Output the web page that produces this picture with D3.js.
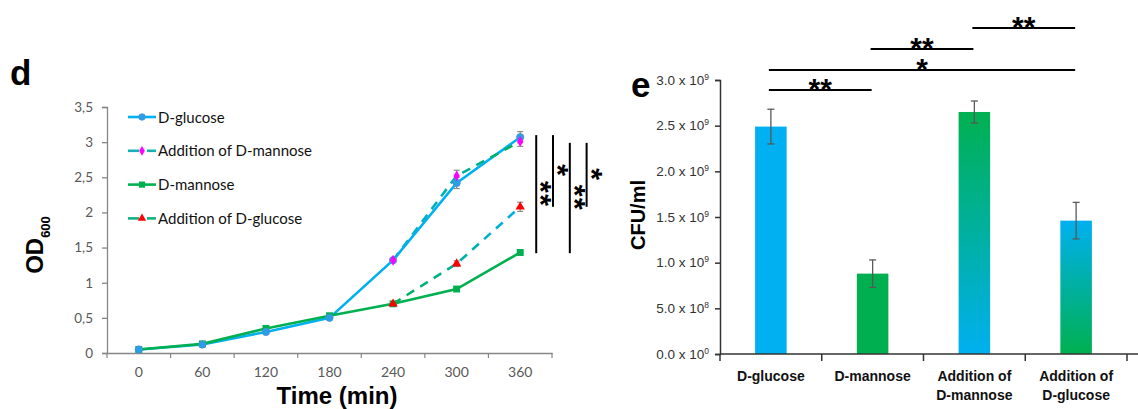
<!DOCTYPE html>
<html lang="en">
<head>
  <meta charset="UTF-8">
  <title>Growth curves and CFU counts</title>
  <script src="https://d3js.org/d3.v7.min.js"></script>
  <style>
    body {
      margin: 0;
      background: #fff;
    }
    svg {
      display: block;
    }
    .panel-letter {
      font-family: 'Liberation Sans', Arial, sans-serif;
      font-weight: bold;
      font-size: 35px;
      fill: #000;
    }
    .lt text {
      font-family: Lato, 'Open Sans', sans-serif;
      fill: #595959;
    }
    .rt text {
      font-family: 'Liberation Sans', Arial, sans-serif;
      fill: #333;
    }
    .star {
      font-family: 'Liberation Sans', Arial, sans-serif;
      font-weight: bold;
      fill: #000;
    }
  </style>
</head>
<body>
  <svg width="1138" height="409"></svg>

  <script>
    // ---- panel d data: OD600 over time ----
    const timeCats = ["0", "60", "120", "180", "240", "300", "360"];
    const odTicks = [0, 0.5, 1, 1.5, 2, 2.5, 3, 3.5];

    const glucose       = [0.05, 0.12, 0.30, 0.50, 1.32, 2.42, 3.07];
    const glucoseErr    = [0, 0, 0, 0, 0.02, 0.08, 0.08];
    const addMannose    = [null, null, null, null, 1.32, 2.52, 3.01];
    const addMannoseErr = [0, 0, 0, 0, 0.02, 0.08, 0.07];
    const mannose       = [0.05, 0.13, 0.35, 0.53, 0.70, 0.91, 1.43];
    const mannoseErr    = [0, 0, 0, 0, 0.01, 0.02, 0.02];
    const addGlucose    = [null, null, null, null, 0.70, 1.27, 2.08];
    const addGlucoseErr = [0, 0, 0, 0, 0.01, 0.04, 0.065];

    // significance brackets to the right of the 360 min points
    const odSig = [
      {top: 3.10, bottom: 1.42, label: "**"},
      {top: 3.10, bottom: 2.08, label: "*"},
      {top: 2.99, bottom: 1.42, label: "**"},
      {top: 2.99, bottom: 2.08, label: "*"}
    ];

    // ---- panel e data: CFU/ml ----
    const cfuCats   = [["D-glucose"], ["D-mannose"], ["Addition of", "D-mannose"], ["Addition of", "D-glucose"]];
    const cfuValues = [2.49e9, 0.88e9, 2.65e9, 1.46e9];
    const cfuErr    = [0.19e9, 0.15e9, 0.12e9, 0.20e9];
    const cfuTicks  = [0, 0.5e9, 1.0e9, 1.5e9, 2.0e9, 2.5e9, 3.0e9];
    const cfuSig = [
      {a: 0, b: 1, y: 2.89e9, label: "**"},
      {a: 0, b: 3, y: 3.11e9, label: "*"},
      {a: 1, b: 2, y: 3.34e9, label: "**"},
      {a: 2, b: 3, y: 3.57e9, label: "**"}
    ];

    const BLUE = "#00b0f0", GREEN = "#00b050";

    const svg = d3.select("svg");
    const defs = svg.append("defs");

    function gradient(id, attrs, c1, c2) {
      const g = defs.append("linearGradient").attr("id", id);
      Object.entries(attrs).forEach(([k, v]) => g.attr(k, v));
      g.append("stop").attr("offset", "0%").attr("stop-color", c1);
      g.append("stop").attr("offset", "100%").attr("stop-color", c2);
    }
    // vertical gradients for the bars (top -> bottom)
    gradient("gMannoseAdd", {x1: 0, y1: 0, x2: 0, y2: 1}, GREEN, BLUE);
    gradient("gGlucoseAdd", {x1: 0, y1: 0, x2: 0, y2: 1}, BLUE, GREEN);

    // =================== panel d ===================
    const x = d3.scaleBand().domain(timeCats).range([107, 552]);
    const y = d3.scaleLinear().domain([0, 3.5]).range([353, 107]);
    const cx = d => x(d) + x.bandwidth() / 2;

    // horizontal gradients for the dashed lines
    gradient("gLineM", {gradientUnits: "userSpaceOnUse", x1: cx("240"), y1: 0, x2: cx("360"), y2: 0}, BLUE, GREEN);
    gradient("gLineG", {gradientUnits: "userSpaceOnUse", x1: cx("240"), y1: 0, x2: cx("360"), y2: 0}, GREEN, BLUE);

    const left = svg.append("g").attr("class", "lt");

    svg.append("text").attr("class", "panel-letter").attr("x", 10).attr("y", 85).text("d");

    // axes
    left.append("g")
      .attr("transform", "translate(0,353)")
      .call(d3.axisBottom(x).tickSize(0).tickPadding(14))
      .call(g => g.select(".domain").attr("stroke", "#868686").attr("stroke-width", 1.3))
      .call(g => g.selectAll("text").attr("font-size", 14));

    // tick marks at band boundaries
    left.append("g").selectAll("line")
      .data(timeCats.concat(["end"]))
      .join("line")
      .attr("x1", (d, i) => x.range()[0] + i * x.step())
      .attr("x2", (d, i) => x.range()[0] + i * x.step())
      .attr("y1", 353).attr("y2", 358)
      .attr("stroke", "#868686").attr("stroke-width", 1.2);

    left.append("g")
      .attr("transform", "translate(107,0)")
      .call(d3.axisLeft(y).tickValues(odTicks).tickSize(5).tickPadding(9)
        .tickFormat(d => String(d).replace(".", ",")))
      .call(g => g.selectAll(".domain, line").attr("stroke", "#868686").attr("stroke-width", 1.3))
      .call(g => g.selectAll("text").attr("font-size", 13.5));

    // axis titles
    svg.append("text")
      .attr("x", 337).attr("y", 404)
      .attr("text-anchor", "middle")
      .style("font-family", "'Liberation Sans', Arial, sans-serif")
      .style("font-weight", "bold")
      .style("font-size", "24px")
      .text("Time (min)");

    const odTitle = svg.append("text")
      .attr("transform", "translate(43,245) rotate(-90)")
      .attr("text-anchor", "middle")
      .style("font-family", "'Liberation Sans', Arial, sans-serif")
      .style("font-weight", "bold")
      .style("font-size", "24px");
    odTitle.append("tspan").text("OD");
    odTitle.append("tspan").attr("font-size", 13).attr("dy", 7).text("600");

    // lines
    const line = d3.line()
      .defined(d => d != null)
      .x((d, i) => cx(timeCats[i]))
      .y(d => y(d));

    const series = [
      {name: "D-glucose", values: glucose, err: glucoseErr, stroke: BLUE, dash: null, marker: "circle", mfill: "#2a9ee6"},
      {name: "D-mannose", values: mannose, err: mannoseErr, stroke: GREEN, dash: null, marker: "square", mfill: GREEN},
      {name: "Addition of D-mannose", values: addMannose, err: addMannoseErr, stroke: "url(#gLineM)", dash: "9,7", marker: "diamond", mfill: "#ff00ff", legendStroke: "#16b0b0"},
      {name: "Addition of D-glucose", values: addGlucose, err: addGlucoseErr, stroke: "url(#gLineG)", dash: "9,7", marker: "triangle", mfill: "#ff0000", legendStroke: "#10b080"}
    ];

    const symbolType = {
      circle: d3.symbolCircle, square: d3.symbolSquare,
      diamond: d3.symbolDiamond, triangle: d3.symbolTriangle
    };
    const symbolSize = {circle: 42, square: 48, diamond: 34, triangle: 38};

    series.forEach(s => {
      left.append("path")
        .datum(s.values)
        .attr("fill", "none")
        .attr("stroke", s.stroke)
        .attr("stroke-width", 2.6)
        .attr("stroke-dasharray", s.dash)
        .attr("d", line);
    });

    // error bars
    series.forEach(s => {
      const pts = s.values.map((v, i) => ({v, e: s.err[i], t: timeCats[i]})).filter(p => p.v != null && p.e > 0.015);
      const eb = left.append("g").attr("stroke", "#8c8c8c").attr("stroke-width", 1.2);
      eb.selectAll(".v").data(pts).join("line")
        .attr("x1", p => cx(p.t)).attr("x2", p => cx(p.t))
        .attr("y1", p => y(p.v + p.e)).attr("y2", p => y(p.v - p.e));
      eb.selectAll(".t").data(pts).join("line")
        .attr("x1", p => cx(p.t) - 3).attr("x2", p => cx(p.t) + 3)
        .attr("y1", p => y(p.v + p.e)).attr("y2", p => y(p.v + p.e));
      eb.selectAll(".b").data(pts).join("line")
        .attr("x1", p => cx(p.t) - 3).attr("x2", p => cx(p.t) + 3)
        .attr("y1", p => y(p.v - p.e)).attr("y2", p => y(p.v - p.e));
    });

    // markers
    [series[1], series[0], series[3], series[2]].forEach(s => {
      const pts = s.values.map((v, i) => ({v, t: timeCats[i]})).filter(p => p.v != null);
      left.append("g").selectAll("path").data(pts).join("path")
        .attr("transform", p => `translate(${cx(p.t)},${y(p.v)})`)
        .attr("d", d3.symbol(symbolType[s.marker], symbolSize[s.marker]))
        .attr("fill", s.mfill)
        .attr("stroke", s.marker === "circle" ? "#4a90d0" : "none")
        .attr("stroke-width", 0.8);
    });

    // legend
    const legend = svg.append("g").attr("class", "lt");
    const legendRows = [series[0], series[2], series[1], series[3]];
    legendRows.forEach((s, i) => {
      const ly = 117 + i * 33.8;
      const stroke = s.legendStroke || s.stroke;
      if (s.dash) {
        legend.append("line").attr("x1", 128).attr("x2", 139).attr("y1", ly).attr("y2", ly)
          .attr("stroke", stroke).attr("stroke-width", 2.6);
        legend.append("line").attr("x1", 147).attr("x2", 156).attr("y1", ly).attr("y2", ly)
          .attr("stroke", stroke).attr("stroke-width", 2.6);
      } else {
        legend.append("line").attr("x1", 128).attr("x2", 156).attr("y1", ly).attr("y2", ly)
          .attr("stroke", stroke).attr("stroke-width", 2.6);
      }
      legend.append("path")
        .attr("transform", `translate(142,${ly})`)
        .attr("d", d3.symbol(symbolType[s.marker], symbolSize[s.marker] * 0.8))
        .attr("fill", s.mfill)
        .attr("stroke", s.marker === "circle" ? "#4a90d0" : "none")
        .attr("stroke-width", 0.8);
      legend.append("text")
        .attr("x", 158).attr("y", ly + 5.5)
        .attr("font-size", 15)
        .style("fill", "#111")
        .text(s.name);
    });

    // significance brackets (panel d): stars run downwards beside each line
    const sigX0 = cx("360") + 16;
    odSig.forEach((s, i) => {
      const sx = sigX0 + i * 16.8;
      svg.append("line")
        .attr("x1", sx).attr("x2", sx)
        .attr("y1", y(s.top)).attr("y2", y(s.bottom))
        .attr("stroke", "#000").attr("stroke-width", 2);
      const mid = (y(s.top) + y(s.bottom)) / 2;
      // rotated text: glyph centre sits "above" the baseline, i.e. to its right
      svg.append("text").attr("class", "star")
        .attr("transform", `translate(${sx - 5},${mid}) rotate(90)`)
        .attr("text-anchor", "middle")
        .attr("font-size", 30)
        .attr("letter-spacing", 1.5)
        .text(s.label);
    });

    // =================== panel e ===================
    const xb = d3.scaleBand().domain(d3.range(cfuCats.length)).range([720, 1127]);
    const yb = d3.scaleLinear().domain([0, 3.0e9]).range([354, 80]);
    const bcx = i => xb(i) + xb.bandwidth() / 2;
    const barW = xb.bandwidth() * 0.31;
    const barFill = [BLUE, GREEN, "url(#gMannoseAdd)", "url(#gGlucoseAdd)"];

    svg.append("text").attr("class", "panel-letter").attr("x", 631).attr("y", 97).text("e");

    const right = svg.append("g").attr("class", "rt");

    right.selectAll("rect.bar")
      .data(cfuValues)
      .join("rect")
      .attr("class", "bar")
      .attr("x", (d, i) => bcx(i) - barW / 2)
      .attr("width", barW)
      .attr("y", d => yb(d))
      .attr("height", d => yb(0) - yb(d))
      .attr("fill", (d, i) => barFill[i]);

    // error bars
    const ebr = right.append("g").attr("stroke", "#595959").attr("stroke-width", 1.3);
    cfuValues.forEach((v, i) => {
      const e = cfuErr[i];
      ebr.append("line").attr("x1", bcx(i)).attr("x2", bcx(i)).attr("y1", yb(v + e)).attr("y2", yb(v - e));
      ebr.append("line").attr("x1", bcx(i) - 3.5).attr("x2", bcx(i) + 3.5).attr("y1", yb(v + e)).attr("y2", yb(v + e));
      ebr.append("line").attr("x1", bcx(i) - 3.5).attr("x2", bcx(i) + 3.5).attr("y1", yb(v - e)).attr("y2", yb(v - e));
    });

    // y axis
    const yAxisR = right.append("g")
      .attr("transform", "translate(720,0)")
      .call(d3.axisLeft(yb).tickValues(cfuTicks).tickSize(5).tickPadding(8).tickFormat(() => ""))
      .call(g => g.selectAll(".domain, line").attr("stroke", "#333").attr("stroke-width", 1.5));
    yAxisR.selectAll(".tick text").each(function (d) {
      const exp = d === 0 ? 0 : Math.floor(Math.log10(d));
      const mant = d === 0 ? 0 : d / Math.pow(10, exp);
      const t = d3.select(this).attr("font-size", 13.5).attr("x", -11);
      t.append("tspan").text(mant.toFixed(1) + " x 10");
      t.append("tspan").attr("font-size", 8.5).attr("dy", -5).text(exp);
    });

    // x axis
    right.append("line")
      .attr("x1", 720).attr("x2", 1138)
      .attr("y1", yb(0)).attr("y2", yb(0))
      .attr("stroke", "#333").attr("stroke-width", 1.5);
    right.append("g").selectAll("line")
      .data(d3.range(cfuCats.length + 1))
      .join("line")
      .attr("x1", i => xb.range()[0] + i * xb.step())
      .attr("x2", i => xb.range()[0] + i * xb.step())
      .attr("y1", yb(0)).attr("y2", yb(0) + 7)
      .attr("stroke", "#333").attr("stroke-width", 1.5);

    cfuCats.forEach((lines, i) => {
      const t = right.append("text")
        .attr("x", bcx(i)).attr("y", 381)
        .attr("text-anchor", "middle")
        .attr("font-size", 14)
        .attr("font-weight", "bold")
        .style("fill", "#111");
      lines.forEach((l, k) => {
        t.append("tspan").attr("x", bcx(i)).attr("dy", k === 0 ? 0 : 19).text(l);
      });
    });

    svg.append("text")
      .attr("transform", "translate(645,215) rotate(-90)")
      .attr("text-anchor", "middle")
      .style("font-family", "'Liberation Sans', Arial, sans-serif")
      .style("font-weight", "bold")
      .style("font-size", "20px")
      .text("CFU/ml");

    // significance brackets (panel e)
    cfuSig.forEach(s => {
      const x1 = bcx(s.a) - 2, x2 = bcx(s.b) - 1;
      svg.append("line")
        .attr("x1", x1).attr("x2", x2)
        .attr("y1", yb(s.y)).attr("y2", yb(s.y))
        .attr("stroke", "#000").attr("stroke-width", 2);
      svg.append("text").attr("class", "star")
        .attr("x", (x1 + x2) / 2).attr("y", yb(s.y) + 9)
        .attr("text-anchor", "middle")
        .attr("font-size", 30)
        .text(s.label);
    });
  </script>
</body>
</html>
